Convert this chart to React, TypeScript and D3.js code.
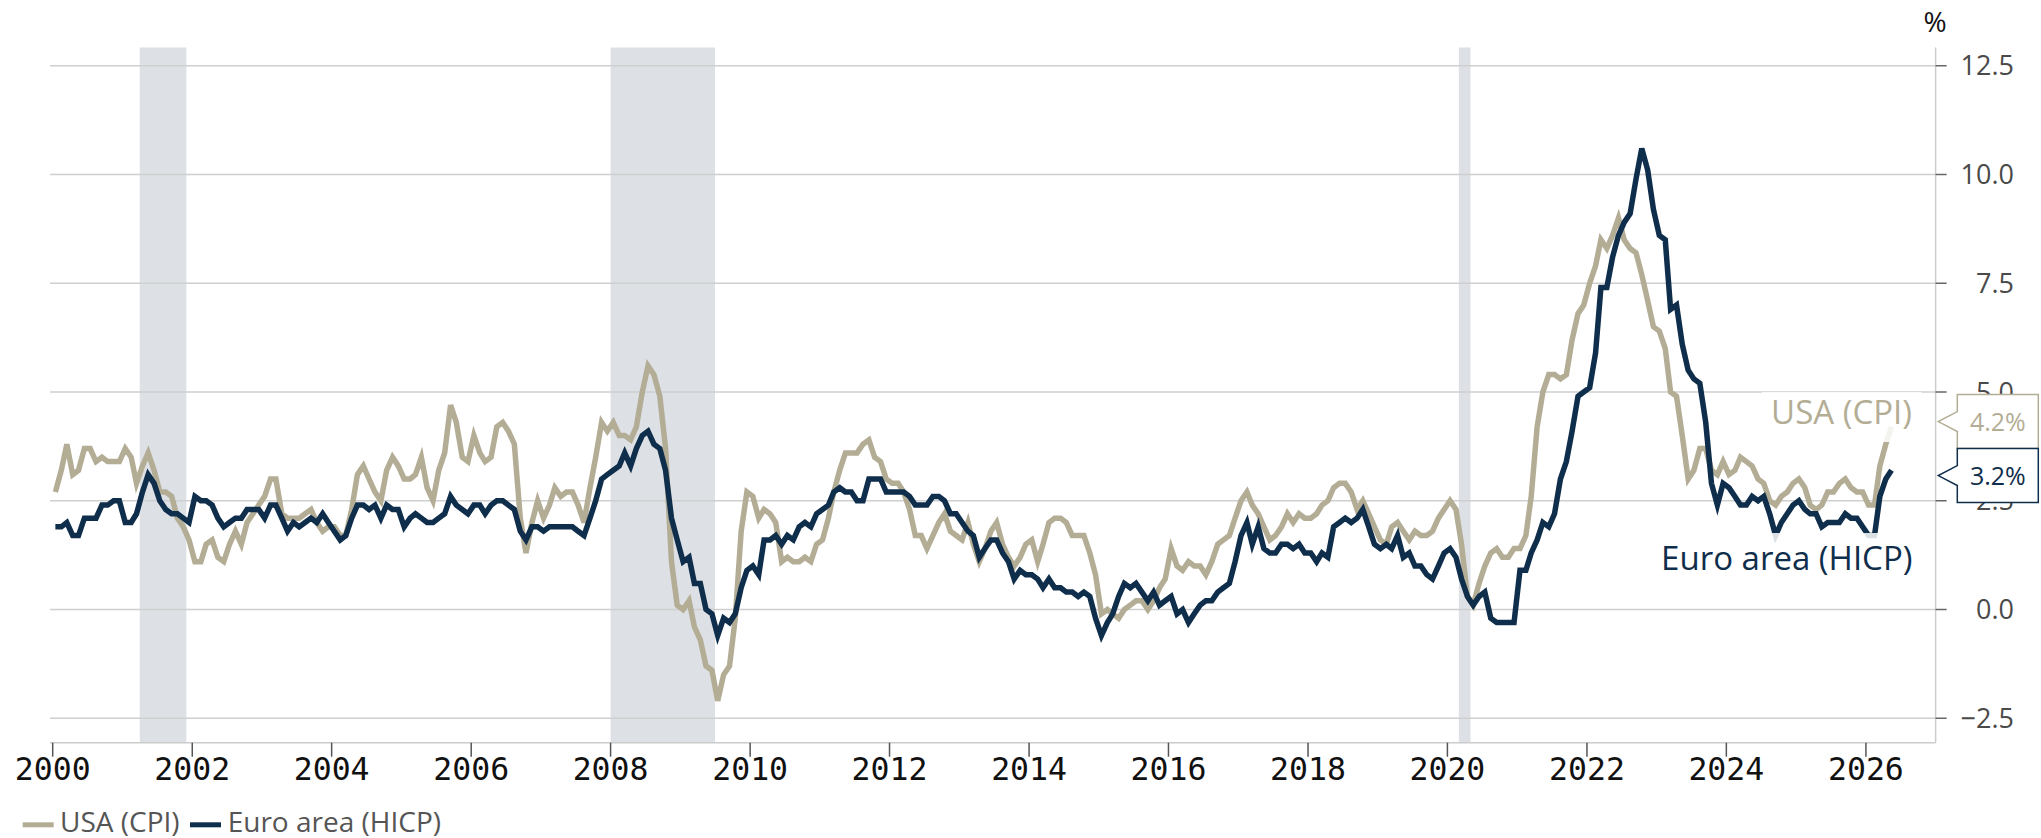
import React from 'react';
import * as d3 from 'd3';

// Monthly year-on-year inflation, Jan 2000 – May 2026 (%)
const usaCPI: number[] = [
  2.7, 3.2, 3.8, 3.1, 3.2, 3.7, 3.7, 3.4, 3.5, 3.4, 3.4, 3.4,
  3.7, 3.5, 2.9, 3.3, 3.6, 3.2, 2.7, 2.7, 2.6, 2.1, 1.9, 1.6,
  1.1, 1.1, 1.5, 1.6, 1.2, 1.1, 1.5, 1.8, 1.5, 2.0, 2.2, 2.4,
  2.6, 3.0, 3.0, 2.2, 2.1, 2.1, 2.1, 2.2, 2.3, 2.0, 1.8, 1.9,
  1.9, 1.7, 1.7, 2.3, 3.1, 3.3, 3.0, 2.7, 2.5, 3.2, 3.5, 3.3,
  3.0, 3.0, 3.1, 3.5, 2.8, 2.5, 3.2, 3.6, 4.7, 4.3, 3.5, 3.4,
  4.0, 3.6, 3.4, 3.5, 4.2, 4.3, 4.1, 3.8, 2.1, 1.3, 2.0, 2.5,
  2.1, 2.4, 2.8, 2.6, 2.7, 2.7, 2.4, 2.0, 2.8, 3.5, 4.3, 4.1,
  4.3, 4.0, 4.0, 3.9, 4.2, 5.0, 5.6, 5.4, 4.9, 3.7, 1.1, 0.1,
  0.0, 0.2, -0.4, -0.7, -1.3, -1.4, -2.1, -1.5, -1.3, -0.2, 1.8, 2.7,
  2.6, 2.1, 2.3, 2.2, 2.0, 1.1, 1.2, 1.1, 1.1, 1.2, 1.1, 1.5,
  1.6, 2.1, 2.7, 3.2, 3.6, 3.6, 3.6, 3.8, 3.9, 3.5, 3.4, 3.0,
  2.9, 2.9, 2.7, 2.3, 1.7, 1.7, 1.4, 1.7, 2.0, 2.2, 1.8, 1.7,
  1.6, 2.0, 1.5, 1.1, 1.4, 1.8, 2.0, 1.5, 1.2, 1.0, 1.2, 1.5,
  1.6, 1.1, 1.5, 2.0, 2.1, 2.1, 2.0, 1.7, 1.7, 1.7, 1.3, 0.8,
  -0.1, 0.0, -0.1, -0.2, 0.0, 0.1, 0.2, 0.2, 0.0, 0.2, 0.5, 0.7,
  1.4, 1.0, 0.9, 1.1, 1.0, 1.0, 0.8, 1.1, 1.5, 1.6, 1.7, 2.1,
  2.5, 2.7, 2.4, 2.2, 1.9, 1.6, 1.7, 1.9, 2.2, 2.0, 2.2, 2.1,
  2.1, 2.2, 2.4, 2.5, 2.8, 2.9, 2.9, 2.7, 2.3, 2.5, 2.2, 1.9,
  1.6, 1.5, 1.9, 2.0, 1.8, 1.6, 1.8, 1.7, 1.7, 1.8, 2.1, 2.3,
  2.5, 2.3, 1.5, 0.3, 0.1, 0.6, 1.0, 1.3, 1.4, 1.2, 1.2, 1.4,
  1.4, 1.7, 2.6, 4.2, 5.0, 5.4, 5.4, 5.3, 5.4, 6.2, 6.8, 7.0,
  7.5, 7.9, 8.5, 8.3, 8.6, 9.0, 8.5, 8.3, 8.2, 7.7, 7.1, 6.5,
  6.4, 6.0, 5.0, 4.9, 4.0, 3.0, 3.2, 3.7, 3.7, 3.2, 3.1, 3.4,
  3.1, 3.2, 3.5, 3.4, 3.3, 3.0, 2.9, 2.5, 2.4, 2.6, 2.7, 2.9,
  3.0, 2.8, 2.4, 2.3, 2.4, 2.7, 2.7, 2.9, 3.0, 2.8, 2.7, 2.7,
  2.4, 2.4, 3.3, 3.8, 4.2,
];

const euroHICP: number[] = [
  1.9, 1.9, 2.0, 1.7, 1.7, 2.1, 2.1, 2.1, 2.4, 2.4, 2.5, 2.5,
  2.0, 2.0, 2.2, 2.7, 3.1, 2.9, 2.5, 2.3, 2.2, 2.2, 2.1, 2.0,
  2.6, 2.5, 2.5, 2.4, 2.1, 1.9, 2.0, 2.1, 2.1, 2.3, 2.3, 2.3,
  2.1, 2.4, 2.4, 2.1, 1.8, 2.0, 1.9, 2.0, 2.1, 2.0, 2.2, 2.0,
  1.8, 1.6, 1.7, 2.1, 2.4, 2.4, 2.3, 2.4, 2.1, 2.4, 2.3, 2.3,
  1.9, 2.1, 2.2, 2.1, 2.0, 2.0, 2.1, 2.2, 2.6, 2.4, 2.3, 2.2,
  2.4, 2.4, 2.2, 2.4, 2.5, 2.5, 2.4, 2.3, 1.8, 1.6, 1.9, 1.9,
  1.8, 1.9, 1.9, 1.9, 1.9, 1.9, 1.8, 1.7, 2.1, 2.5, 3.0, 3.1,
  3.2, 3.3, 3.6, 3.3, 3.7, 4.0, 4.1, 3.8, 3.7, 3.2, 2.1, 1.6,
  1.1, 1.2, 0.6, 0.6, 0.0, -0.1, -0.6, -0.2, -0.3, -0.1, 0.5, 0.9,
  1.0, 0.8, 1.6, 1.6, 1.7, 1.5, 1.7, 1.6, 1.9, 2.0, 1.9, 2.2,
  2.3, 2.4, 2.7, 2.8, 2.7, 2.7, 2.5, 2.5, 3.0, 3.0, 3.0, 2.7,
  2.7, 2.7, 2.7, 2.6, 2.4, 2.4, 2.4, 2.6, 2.6, 2.5, 2.2, 2.2,
  2.0, 1.8, 1.7, 1.2, 1.4, 1.6, 1.6, 1.3, 1.1, 0.7, 0.9, 0.8,
  0.8, 0.7, 0.5, 0.7, 0.5, 0.5, 0.4, 0.4, 0.3, 0.4, 0.3, -0.2,
  -0.6, -0.3, -0.1, 0.3, 0.6, 0.5, 0.6, 0.4, 0.2, 0.4, 0.1, 0.2,
  0.3, -0.1, 0.0, -0.3, -0.1, 0.1, 0.2, 0.2, 0.4, 0.5, 0.6, 1.1,
  1.7, 2.0, 1.5, 1.9, 1.4, 1.3, 1.3, 1.5, 1.5, 1.4, 1.5, 1.3,
  1.3, 1.1, 1.3, 1.2, 1.9, 2.0, 2.1, 2.0, 2.1, 2.3, 1.9, 1.5,
  1.4, 1.5, 1.4, 1.7, 1.2, 1.3, 1.0, 1.0, 0.8, 0.7, 1.0, 1.3,
  1.4, 1.2, 0.7, 0.3, 0.1, 0.3, 0.4, -0.2, -0.3, -0.3, -0.3, -0.3,
  0.9, 0.9, 1.3, 1.6, 2.0, 1.9, 2.2, 3.0, 3.4, 4.1, 4.9, 5.0,
  5.1, 5.9, 7.4, 7.4, 8.1, 8.6, 8.9, 9.1, 9.9, 10.6, 10.1, 9.2,
  8.6, 8.5, 6.9, 7.0, 6.1, 5.5, 5.3, 5.2, 4.3, 2.9, 2.4, 2.9,
  2.8, 2.6, 2.4, 2.4, 2.6, 2.5, 2.6, 2.2, 1.7, 2.0, 2.2, 2.4,
  2.5, 2.3, 2.2, 2.2, 1.9, 2.0, 2.0, 2.0, 2.2, 2.1, 2.1, 1.9,
  1.7, 1.7, 2.6, 3.0, 3.2,
];

// US recessions (shaded)
const recessionStarts = ['2001-04-01', '2008-01-01', '2020-03-01'];
const recessionEnds = ['2001-12-01', '2009-07-01', '2020-05-01'];

const yTickValues = [-2.5, 0, 2.5, 5, 7.5, 10, 12.5];
const xTickYears = [2000, 2002, 2004, 2006, 2008, 2010, 2012, 2014, 2016, 2018, 2020, 2022, 2024, 2026];

const seriesNames = ['USA (CPI)', 'Euro area (HICP)'];
const seriesColors = ['#b4ad95', '#0f2e4c'];

const W = 2041;
const H = 838;
const plotLeft = 50;
const plotRight = 1935.6;
const plotTop = 47.5;
const plotBottom = 742.7;

const parseDate = (s: string) => {
  const [yy, mm, dd] = s.split('-').map(Number);
  return new Date(yy, mm - 1, dd);
};

export default function App() {
  const x = d3.scaleTime()
    .domain([new Date(2000, 0, 1), new Date(2027, 0, 1)])
    .range([52.7, plotRight]);
  const y = d3.scaleLinear().domain([-2.5, 12.5]).range([718.25, 65.75]);

  const monthStarts = d3.timeMonth.range(new Date(2000, 0, 1), new Date(2026, 5, 1));
  const dates = monthStarts.map((d) => d3.timeDay.offset(d, 14));

  const line = d3.line<number>()
    .x((_, i) => x(dates[i]))
    .y((v) => y(v));

  const series = [usaCPI, euroHICP];
  const fmt = d3.format('.1f');

  // end-value boxes with collision handling
  const boxH = 54;
  const lastVals = series.map((s) => s[s.length - 1]);
  const ideal = lastVals.map((v) => y(v));
  const centers = [...ideal];
  if (Math.abs(centers[1] - centers[0]) < boxH) {
    const mid = (centers[0] + centers[1]) / 2;
    const up = centers[0] < centers[1] ? 0 : 1;
    centers[up] = mid - boxH / 2;
    centers[1 - up] = mid + boxH / 2;
  }
  const bx = 1957.3;
  const bRight = 2038.3;
  const tipX = 1938.3;

  const fontSans = '"Open Sans", "Liberation Sans", sans-serif';
  const fontMono = '"DejaVu Sans Mono", monospace';

  return (
    <svg width={W} height={H} style={{ position: 'absolute', left: 0, top: 0, background: '#fff' }}>
      {/* recession bands */}
      {recessionStarts.map((s, i) => {
        const x0 = x(parseDate(s));
        const x1 = x(parseDate(recessionEnds[i]));
        return <rect key={s} x={x0} y={plotTop} width={x1 - x0} height={plotBottom - plotTop} fill="#dde0e5" />;
      })}

      {/* gridlines */}
      {yTickValues.map((v) => (
        <line key={v} x1={plotLeft} x2={plotRight} y1={y(v)} y2={y(v)} stroke="#cfcfcf" strokeWidth={1.5} />
      ))}

      {/* axes */}
      <line x1={plotRight} x2={plotRight} y1={plotTop} y2={plotBottom} stroke="#cccccc" strokeWidth={1.5} />
      <line x1={plotLeft} x2={plotRight} y1={plotBottom} y2={plotBottom} stroke="#cccccc" strokeWidth={1.5} />
      {yTickValues.map((v) => (
        <g key={'yt' + v}>
          <line x1={plotRight} x2={plotRight + 11} y1={y(v)} y2={y(v)} stroke="#666" strokeWidth={1.5} />
          <text x={2014} y={y(v) + 9.5} textAnchor="end" fontFamily={fontSans} fontSize={27} fill="#4a4a4a">
            {fmt(v)}
          </text>
        </g>
      ))}
      <text x={1935} y={32} textAnchor="middle" fontFamily={fontSans} fontSize={28} fill="#111">%</text>
      {xTickYears.map((yr) => {
        const xx = x(new Date(yr, 0, 1));
        return (
          <g key={'xt' + yr}>
            <line x1={xx} x2={xx} y1={plotBottom} y2={plotBottom + 14} stroke="#555" strokeWidth={1.5} />
            <text x={xx} y={780} textAnchor="middle" fontFamily={fontMono} fontSize={31.5} fill="#111">{yr}</text>
          </g>
        );
      })}

      {/* series lines */}
      {series.map((s, i) => (
        <path key={seriesNames[i]} d={line(s) || ''} fill="none" stroke={seriesColors[i]} strokeWidth={5.5} strokeLinejoin="miter" />
      ))}

      {/* series labels */}
      <rect x={1762} y={392} width={160} height={50} fill="#fff" fillOpacity={0.85} />
      <text x={1912} y={424} textAnchor="end" fontFamily={fontSans} fontSize={33} fill={seriesColors[0]}>{seriesNames[0]}</text>
      <rect x={1648} y={533} width={274} height={50} fill="#fff" fillOpacity={0.85} />
      <text x={1912.5} y={570} textAnchor="end" fontFamily={fontSans} fontSize={33} fill={seriesColors[1]}>{seriesNames[1]}</text>

      {/* end value boxes */}
      {lastVals.map((v, i) => {
        const c = centers[i];
        const t = c - boxH / 2;
        const b = c + boxH / 2;
        const d = `M${bx},${t}H${bRight}V${b}H${bx}V${c + 10}L${tipX},${c}L${bx},${c - 10}Z`;
        return (
          <g key={'box' + i}>
            <path d={d} fill="#fff" stroke={seriesColors[i]} strokeWidth={1.5} />
            <text x={(bx + bRight) / 2} y={c + 9} textAnchor="middle" fontFamily={fontSans} fontSize={25} fill={seriesColors[i]}>
              {fmt(v)}%
            </text>
          </g>
        );
      })}

      {/* legend */}
      <rect x={22.7} y={822.3} width={31} height={5} fill={seriesColors[0]} />
      <text x={60} y={831.5} fontFamily={fontSans} fontSize={28} fill="#555">{seriesNames[0]}</text>
      <rect x={190} y={822.3} width={31} height={5} fill={seriesColors[1]} />
      <text x={227.7} y={831.5} fontFamily={fontSans} fontSize={28} fill="#555">{seriesNames[1]}</text>
    </svg>
  );
}
